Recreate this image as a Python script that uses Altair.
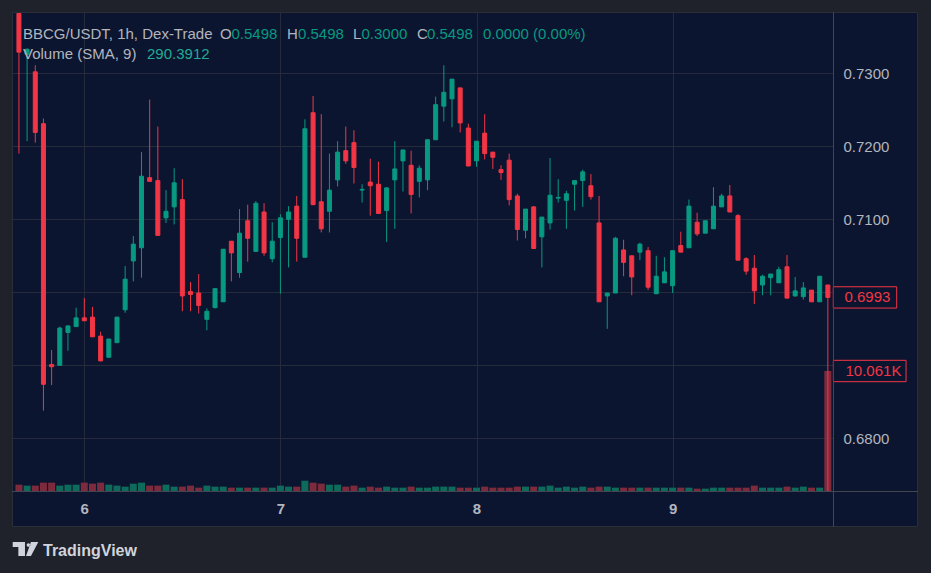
import altair as alt
import pandas as pd
import numpy as np

# ---------------- data ----------------
# hour offset from day 6 00:00, one candle per hour
hours = list(range(-8, 92))
opens = [0.7382, 0.7326, 0.7302, 0.7231, 0.6901, 0.6900, 0.6945, 0.6953, 0.6965, 0.6966,
         0.6940, 0.6911, 0.6931, 0.6976, 0.7043, 0.7061, 0.7157, 0.7153, 0.7102, 0.7117,
         0.7127, 0.7001, 0.6999, 0.6963, 0.6979, 0.6987, 0.7070, 0.7027, 0.7098, 0.7056,
         0.7110, 0.7046, 0.7075, 0.7100, 0.7118, 0.7048, 0.7246, 0.7124, 0.7111, 0.7154,
         0.7194, 0.7205, 0.7140, 0.7151, 0.7148, 0.7112, 0.7154, 0.7180, 0.7174, 0.7152,
         0.7154, 0.7209, 0.7255, 0.7265, 0.7280, 0.7225, 0.7180, 0.7218, 0.7192, 0.7168,
         0.7181, 0.7132, 0.7085, 0.7117, 0.7076, 0.7095, 0.7129, 0.7126, 0.7148, 0.7153,
         0.7146, 0.7095, 0.6995, 0.6999, 0.7058, 0.7050, 0.7055, 0.7057, 0.6998, 0.7013,
         0.7009, 0.7064, 0.7061, 0.7096, 0.7081, 0.7087, 0.7117, 0.7132, 0.7105, 0.7046,
         0.7033, 0.7010, 0.7020, 0.7013, 0.7035, 0.6995, 0.6994, 0.7003, 0.6987, 0.7010]
highs = [0.7382, 0.7334, 0.7311, 0.7238, 0.6921, 0.6953, 0.6954, 0.6979, 0.6992, 0.6980,
         0.6946, 0.6936, 0.6966, 0.7036, 0.7077, 0.7192, 0.7264, 0.7227, 0.7140, 0.7170,
         0.7155, 0.7014, 0.7025, 0.6978, 0.7005, 0.7059, 0.7070, 0.7114, 0.7120, 0.7125,
         0.7122, 0.7096, 0.7107, 0.7118, 0.7132, 0.7237, 0.7269, 0.7244, 0.7190, 0.7207,
         0.7227, 0.7222, 0.7148, 0.7183, 0.7179, 0.7144, 0.7207, 0.7195, 0.7194, 0.7174,
         0.7209, 0.7268, 0.7311, 0.7292, 0.7280, 0.7231, 0.7207, 0.7244, 0.7192, 0.7174,
         0.7190, 0.7135, 0.7114, 0.7118, 0.7103, 0.7184, 0.7155, 0.7139, 0.7153, 0.7168,
         0.7162, 0.7132, 0.6999, 0.7076, 0.7072, 0.7050, 0.7068, 0.7062, 0.7050, 0.7048,
         0.7057, 0.7083, 0.7127, 0.7109, 0.7098, 0.7144, 0.7135, 0.7147, 0.7107, 0.7048,
         0.7051, 0.7024, 0.7025, 0.7035, 0.7051, 0.7021, 0.7014, 0.7003, 0.7022, 0.7010]
lows = [0.7190, 0.7207, 0.7205, 0.6838, 0.6873, 0.6900, 0.6920, 0.6953, 0.6961, 0.6939,
        0.6906, 0.6911, 0.6931, 0.6972, 0.7015, 0.7020, 0.7152, 0.7078, 0.7095, 0.7093,
        0.6974, 0.6974, 0.6971, 0.6948, 0.6978, 0.6987, 0.7015, 0.7020, 0.7042, 0.7056,
        0.7050, 0.7041, 0.6998, 0.7034, 0.7042, 0.7048, 0.7120, 0.7082, 0.7082, 0.7145,
        0.7176, 0.7149, 0.7123, 0.7105, 0.7108, 0.7069, 0.7087, 0.7138, 0.7108, 0.7130,
        0.7140, 0.7209, 0.7234, 0.7226, 0.7219, 0.7173, 0.7172, 0.7182, 0.7169, 0.7154,
        0.7119, 0.7071, 0.7074, 0.7060, 0.7034, 0.7086, 0.7123, 0.7087, 0.7112, 0.7117,
        0.7127, 0.6987, 0.6950, 0.6999, 0.7022, 0.6996, 0.7044, 0.7003, 0.6998, 0.7013,
        0.6999, 0.7055, 0.7061, 0.7077, 0.7081, 0.7087, 0.7117, 0.7110, 0.7044, 0.7024,
        0.6984, 0.6996, 0.6996, 0.7013, 0.6992, 0.6994, 0.6990, 0.6987, 0.6987, 0.3000]
closes = [0.7329, 0.7333, 0.7219, 0.6874, 0.6898, 0.6951, 0.6954, 0.6965, 0.6961, 0.6939,
          0.6906, 0.6936, 0.6966, 0.7018, 0.7066, 0.7159, 0.7152, 0.7078, 0.7111, 0.7150,
          0.6995, 0.6997, 0.6982, 0.6974, 0.7005, 0.7059, 0.7054, 0.7081, 0.7074, 0.7122,
          0.7054, 0.7070, 0.7102, 0.7110, 0.7074, 0.7224, 0.7120, 0.7087, 0.7140, 0.7192,
          0.7180, 0.7171, 0.7141, 0.7146, 0.7108, 0.7143, 0.7169, 0.7195, 0.7134, 0.7170,
          0.7209, 0.7257, 0.7274, 0.7292, 0.7232, 0.7173, 0.7207, 0.7190, 0.7185, 0.7164,
          0.7127, 0.7086, 0.7114, 0.7060, 0.7103, 0.7133, 0.7130, 0.7135, 0.7153, 0.7165,
          0.7131, 0.6987, 0.6999, 0.7074, 0.7041, 0.7021, 0.7066, 0.7007, 0.7022, 0.7028,
          0.7057, 0.7055, 0.7118, 0.7080, 0.7098, 0.7118, 0.7132, 0.7110, 0.7044, 0.7029,
          0.7002, 0.7022, 0.7025, 0.7031, 0.6992, 0.7002, 0.7006, 0.6987, 0.7022, 0.6993]
volumes = [530, 450, 450, 700, 700, 450, 530, 530, 700, 615,
           700, 530, 450, 365, 615, 700, 450, 450, 530, 365,
           365, 450, 280, 450, 365, 365, 280, 280, 280, 280,
           280, 280, 450, 365, 365, 865, 700, 615, 530, 530,
           365, 450, 280, 365, 280, 365, 280, 280, 365, 280,
           280, 365, 365, 365, 280, 280, 280, 365, 280, 280,
           280, 365, 365, 365, 365, 450, 280, 365, 280, 365,
           280, 365, 365, 280, 280, 280, 280, 280, 280, 280,
           280, 280, 280, 195, 195, 280, 280, 280, 280, 280,
           450, 280, 280, 280, 365, 280, 365, 280, 280, 10061]

day_ticks = [0, 24, 48, 72]
day_labels = ["6", "7", "8", "9"]
price_ticks = [0.68, 0.69, 0.70, 0.71, 0.72, 0.73]
covered_ticks = [0.69, 0.70]   # labels hidden behind the last-value boxes

# ---------------- styles ----------------
BG = "#0c1530"
OUTER = "#1f222b"
GRID = "#252b3b"
SEP = "#434651"
TXT = "#b2b5be"
UP = "#089981"
DOWN = "#f23645"
VUP = "#0e6a5a"
VDOWN = "#7d2a3d"
FONT = "Liberation Sans"

df = pd.DataFrame({"hour": hours, "open": opens, "high": highs, "low": lows,
                   "close": closes, "volume": volumes})
last = df.tail(1).copy()
last["plabel"] = last["close"].map(lambda v: f"{v:.4f}")
last["vlabel"] = last["volume"].map(lambda v: f"{v / 1000:.3f}K")
one = pd.DataFrame({"k": [0]})

x_label_expr = " : ".join(f"datum.value == {t} ? '{l}'" for t, l in zip(day_ticks, day_labels)) + " : ''"
y_label_expr = (" || ".join(f"abs(datum.value - {t}) < 1e-6" for t in covered_ticks)
                + " ? '' : format(datum.value, '.4f')")

x_axis = alt.Axis(values=day_ticks, labelExpr=x_label_expr, grid=True, gridColor=GRID,
                  domain=False, ticks=False, labelColor=TXT, labelFont=FONT,
                  labelFontSize=15, labelFontWeight="bold", labelPadding=10,
                  labelFlush=False, title=None)
x_scale = alt.Scale(domain=[-8.848, 91.63], nice=False, zero=False, padding=0)


def X():
    return alt.X("hour:Q", scale=x_scale, axis=x_axis)


price_scale = alt.Scale(domain=[0.672781, 0.738397], nice=False, zero=False, padding=0)
y_axis = alt.Axis(orient="right", values=price_ticks, labelExpr=y_label_expr, grid=True,
                  gridColor=GRID, domain=False, ticks=False, labelColor=TXT, labelFont=FONT,
                  labelFontSize=15, labelPadding=10, title=None)
vol_scale = alt.Scale(domain=[0, 40160], nice=False, zero=True, padding=0)

up_cond = "datum.close >= datum.open"

wicks = alt.Chart(df).mark_rule(strokeWidth=1, clip=True).encode(
    x=X(),
    y=alt.Y("low:Q", scale=price_scale, axis=y_axis),
    y2="high:Q",
    color=alt.condition(up_cond, alt.value(UP), alt.value(DOWN)),
)
bodies = alt.Chart(df).mark_bar(size=4, strokeWidth=1, clip=True).encode(
    x=X(),
    y=alt.Y("open:Q", scale=price_scale, axis=y_axis),
    y2="close:Q",
    color=alt.condition(up_cond, alt.value(UP), alt.value(DOWN)),
    stroke=alt.condition(up_cond, alt.value(UP), alt.value(DOWN)),
)
price_box = alt.Chart(last).mark_point(
    shape="M-1,-0.336H1V0.336H-1Z", size=4020, filled=True, fill=BG, stroke=DOWN,
    strokeWidth=1, opacity=1, fillOpacity=1, strokeOpacity=1,
).encode(x=alt.value(853), y=alt.Y("close:Q", scale=price_scale, axis=y_axis))
price_text = alt.Chart(last).mark_text(
    align="left", baseline="middle", font=FONT, fontSize=15, color=DOWN,
).encode(x=alt.value(832.5), y=alt.Y("close:Q", scale=price_scale, axis=y_axis), text="plabel:N")

vol_bars = alt.Chart(df).mark_bar(size=7).encode(
    x=X(),
    y=alt.Y("volume:Q", scale=vol_scale, axis=None),
    color=alt.condition(up_cond, alt.value(VUP), alt.value(VDOWN)),
)
vol_box = alt.Chart(last).mark_point(
    shape="M-1,-0.294H1V0.294H-1Z", size=5285, filled=True, fill=BG, stroke=DOWN,
    strokeWidth=1, opacity=1, fillOpacity=1, strokeOpacity=1,
).encode(x=alt.value(857.7), y=alt.Y("volume:Q", scale=vol_scale, axis=None))
vol_text = alt.Chart(last).mark_text(
    align="left", baseline="middle", font=FONT, fontSize=15, color=DOWN,
).encode(x=alt.value(833.5), y=alt.Y("volume:Q", scale=vol_scale, axis=None), text="vlabel:N")


def rect(x1, x2, y1, y2, color):
    return alt.Chart(one).mark_rect(color=color).encode(
        x=alt.value(x1), x2=alt.value(x2), y=alt.value(y1), y2=alt.value(y2))


def txt(s, x, y, color, size=15, weight="normal"):
    return alt.Chart(one).mark_text(
        text=s, align="left", baseline="alphabetic", font=FONT, fontSize=size,
        fontWeight=weight, color=color,
    ).encode(x=alt.value(x - 12), y=alt.value(y - 12))


decor = [
    rect(-12, 919, -12, 0, OUTER),
    rect(-12, 0, -12, 561, OUTER),
    rect(906, 919, -12, 561, OUTER),
    rect(-12, 919, 515, 561, OUTER),
    alt.Chart(one).mark_rect(filled=False, stroke="#2a2e39", strokeWidth=1).encode(
        x=alt.value(0.5), x2=alt.value(905.5), y=alt.value(0.5), y2=alt.value(514.5)),
    alt.Chart(one).mark_rule(color=SEP, strokeWidth=1).encode(
        x=alt.value(821.5), y=alt.value(0), y2=alt.value(515)),
    alt.Chart(one).mark_rule(color=SEP, strokeWidth=1).encode(
        x=alt.value(0), x2=alt.value(906), y=alt.value(479.5)),
]

header = [
    ("BBCG/USDT, 1h, Dex-Trade", 23, TXT),
    ("O", 220, TXT), ("0.5498", 231.5, UP),
    ("H", 287, TXT), ("0.5498", 298, UP),
    ("L", 353, TXT), ("0.3000", 361.5, UP),
    ("C", 417, TXT), ("0.5498", 427, UP),
    ("0.0000 (0.00%)", 483, UP),
]
texts = [txt(s, x, 38.5, c) for s, x, c in header]
texts += [txt("Volume (SMA, 9)", 23, 59, TXT), txt("290.3912", 147, 59, "#22ab94")]
texts.append(txt("TradingView", 43, 556, "#d1d4dc", size=16, weight="bold"))

logo_path = ("M-0.985,-0.54L-0.04,-0.54L-0.04,0.54L-0.55,0.54L-0.55,-0.15L-0.985,-0.15Z"
             "M0.42,-0.54L0.985,-0.54L0.42,0.54L0.04,0.54Z"
             "M0.09,-0.31A0.14,0.14 0 1,0 0.37,-0.31A0.14,0.14 0 1,0 0.09,-0.31Z")
logo = alt.Chart(one).mark_point(shape=logo_path, size=676, filled=True, color="#d1d4dc",
                                 opacity=1).encode(x=alt.value(13.5), y=alt.value(537))

price_layer = alt.layer(wicks, bodies, price_box, price_text)
vol_layer = alt.layer(vol_bars, vol_box, vol_text)

chart = alt.layer(vol_layer, price_layer, *decor, *texts, logo).resolve_scale(
    y="independent"
).properties(
    width=821, height=479,
    padding={"left": 12, "top": 12, "right": 98, "bottom": 82},
    autosize=alt.AutoSizeParams(type="none"),
    background=BG,
).configure_view(stroke=None)

chart.save("out.html", embed_options={"renderer": "svg", "actions": False})
